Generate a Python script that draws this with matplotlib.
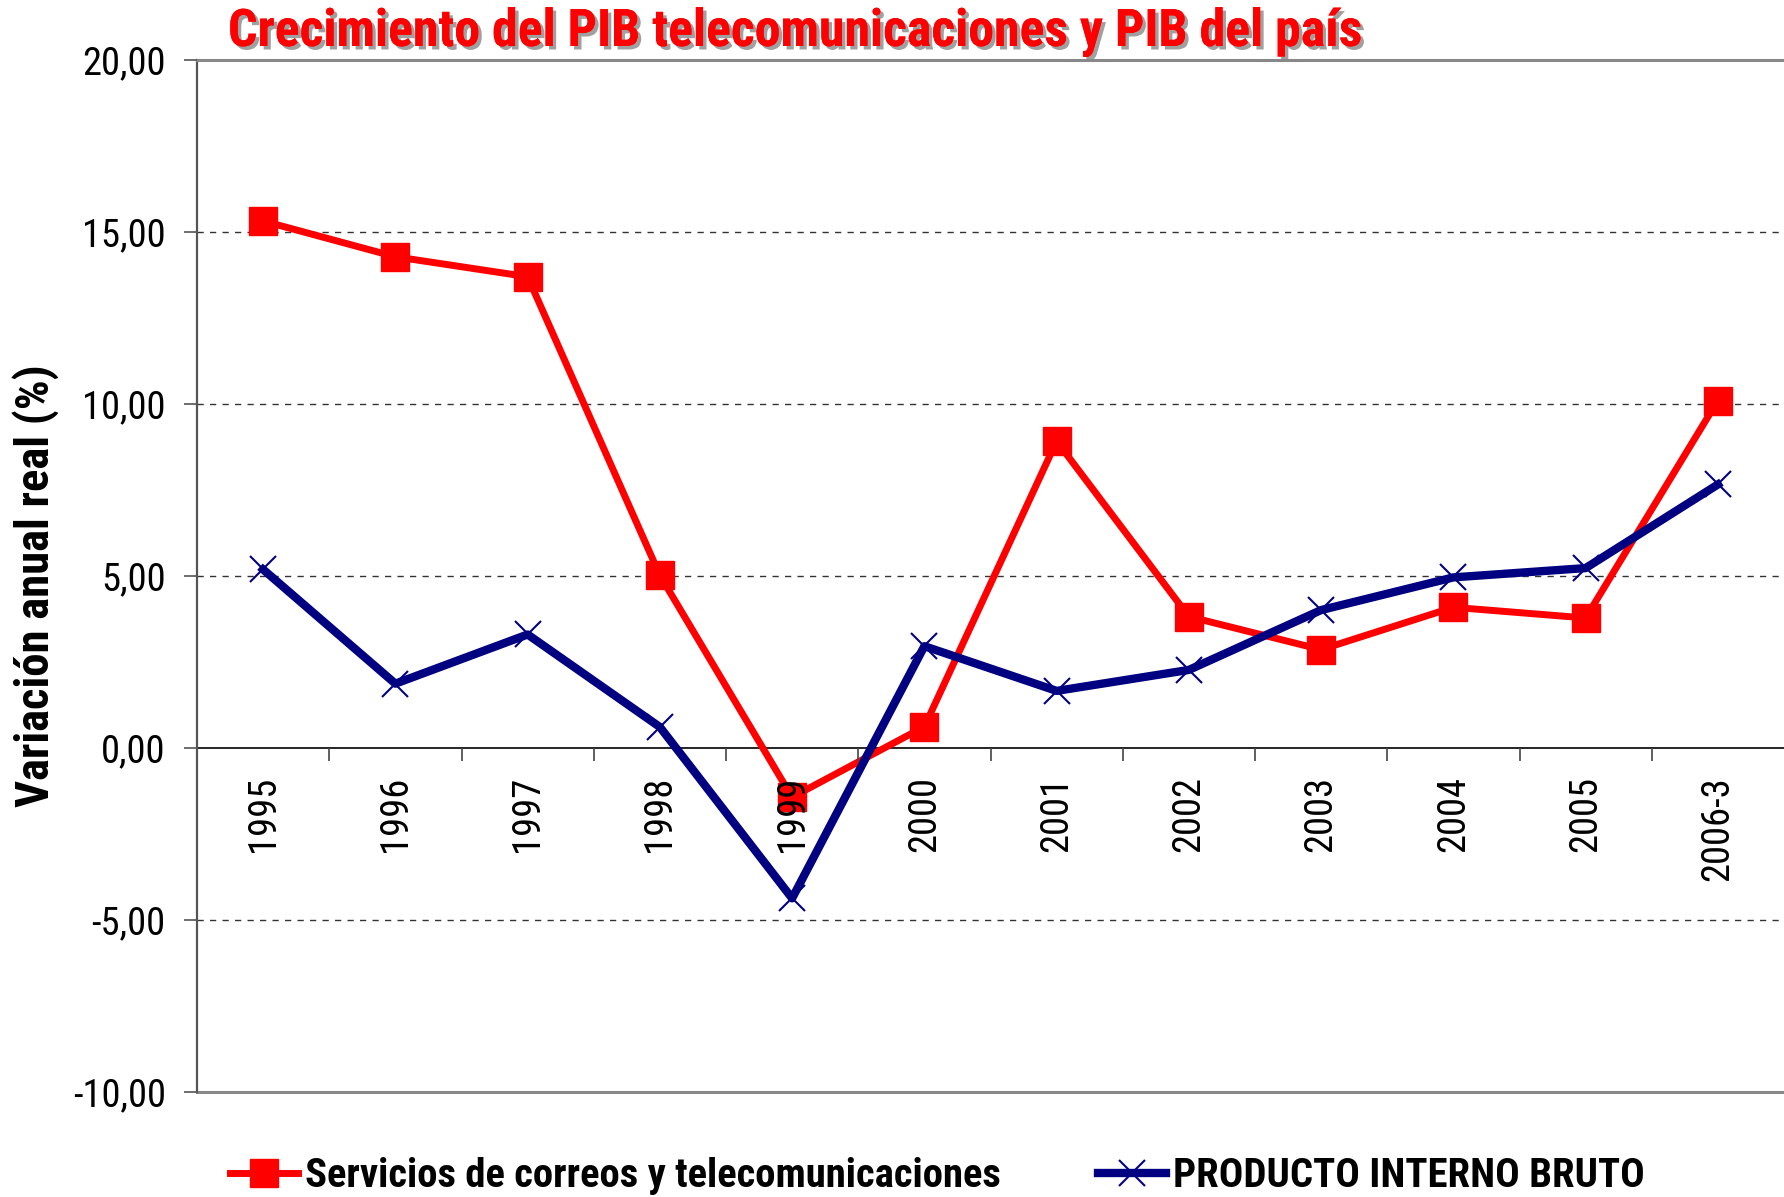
import matplotlib
matplotlib.use("Agg")
import matplotlib.pyplot as plt
import matplotlib.patheffects as pe
from matplotlib import font_manager
from matplotlib.lines import Line2D

# ---- data ----
categories = ["1995", "1996", "1997", "1998", "1999", "2000", "2001",
              "2002", "2003", "2004", "2005", "2006-3"]
servicios = [15.32, 14.28, 13.70, 5.02, -1.43, 0.62, 8.92, 3.82, 2.86, 4.09, 3.78, 10.10]
pib = [5.19, 1.87, 3.30, 0.61, -4.37, 2.96, 1.66, 2.27, 4.01, 4.96, 5.23, 7.66]
yticks = [-10, -5, 0, 5, 10, 15, 20]
title = "Crecimiento del PIB telecomunicaciones y PIB del país"
ylabel = "Variación anual real (%)"
labels = ["Servicios de correos y telecomunicaciones", "PRODUCTO INTERNO BRUTO"]

# ---- fonts ----
avail = {f.name for f in font_manager.fontManager.ttflist}
fam = "Roboto Condensed" if "Roboto Condensed" in avail else "Liberation Sans"
plt.rcParams["font.family"] = [fam, "DejaVu Sans"]

W, H = 1784, 1197
fig = plt.figure(figsize=(W / 100, H / 100), dpi=100)
ax = fig.add_axes([197 / W, 1 - 1092 / H, (W - 197) / W, (1092 - 60) / H])
ax.set_axisbelow(False)
renderer = fig.canvas.get_renderer()


def fit_width(t, target_px):
    w = t.get_window_extent(renderer).width
    if w > 0:
        t.set_fontsize(t.get_fontsize() * target_px / w)


x = list(range(len(categories)))
RED = "#FF0000"
BLUE = "#000080"
red_style = dict(color=RED, lw=5.0, marker="s", ms=19.5, mec=RED, mfc=RED)
blue_style = dict(color=BLUE, lw=6.0, marker="x", ms=19, mew=1.5, mec=BLUE)
ax.plot(x, servicios, zorder=2.0, **red_style)
ax.plot(x, pib, zorder=2.6, **blue_style)

ax.set_xlim(-0.5, len(categories) - 0.5)
ax.set_ylim(-10, 20)

# gridlines
for g in [-5, 5, 10, 15]:
    ax.axhline(g, color="#333333", lw=1.0, dashes=(4.5, 4.5), zorder=1)
ax.axhline(-10, color="#888888", lw=2.2, zorder=1.5, clip_on=False)

# spines
ax.spines["right"].set_visible(False)
ax.spines["top"].set_color("#888888")
ax.spines["top"].set_linewidth(2.2)
ax.spines["left"].set_color("#555555")
ax.spines["left"].set_linewidth(1.6)
ax.spines["bottom"].set_position(("data", 0))
ax.spines["bottom"].set_color("black")
ax.spines["bottom"].set_linewidth(1.2)
ax.spines["bottom"].set_zorder(1.8)

# tick label size fitted so that "10,00" is ~84 px wide
probe = fig.text(0, 0, "10,00", fontsize=28)
fit_width(probe, 84)
tick_fs = probe.get_fontsize()
probe.remove()

# y ticks
ax.set_yticks(yticks)
ax.set_yticklabels([f"{v:.2f}".replace(".", ",") for v in yticks])
ax.tick_params(axis="y", direction="out", length=9.5, width=1.2, color="#555555",
               labelsize=tick_fs, pad=13)

# x ticks: boundaries as major ticks, labels at centers via minor ticks
ax.set_xticks([i + 0.5 for i in range(len(categories) - 1)])
ax.set_xticklabels([])
ax.set_xticks(x, minor=True)
ax.set_xticklabels(categories, minor=True, rotation=90, va="top", ha="center")
ax.tick_params(axis="x", which="major", direction="out", length=9.5, width=1.2, color="#444444")
ax.tick_params(axis="x", which="minor", length=0, labelsize=tick_fs, pad=20)

# title
tt = fig.text(228 / W, 1 - 46 / H, title, color=RED, fontsize=36, fontweight="bold",
              ha="left", va="baseline",
              path_effects=[pe.withSimplePatchShadow(offset=(2.5, -2.5), shadow_rgbFace="#888888", alpha=0.8),
                            pe.Normal()])
fit_width(tt, 1135)

# y label
yl = fig.text(36 / W, 1 - 586 / H, ylabel, rotation=90, fontsize=33, fontweight="bold",
              ha="center", va="center")
ext = yl.get_window_extent(renderer)
if ext.height > 0:
    yl.set_fontsize(yl.get_fontsize() * 444 / ext.height)

# legend
probe = fig.text(0, 0, labels[0], fontsize=26, fontweight="bold")
fit_width(probe, 698)
leg_fs = probe.get_fontsize()
probe.remove()
handles = [Line2D([], [], **red_style), Line2D([], [], **blue_style)]
fpx = leg_fs * 100 / 72
fig.legend(handles, labels, loc="center left", bbox_to_anchor=(230 / W, 1 - 1176 / H),
           ncol=2, frameon=False, borderpad=0, borderaxespad=0,
           handlelength=68 / fpx, handletextpad=7 / fpx, columnspacing=97 / fpx,
           prop={"size": leg_fs, "weight": "bold"})

fig.savefig("out.png", dpi=100)
